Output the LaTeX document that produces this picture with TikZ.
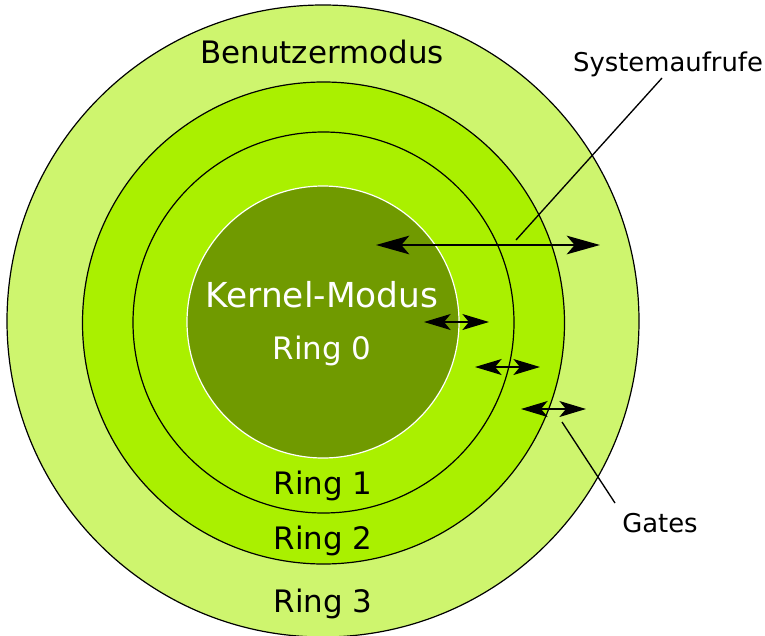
\documentclass[tikz,border=0pt]{standalone}
\usepackage{fontspec}
\setmainfont{DejaVu Sans}
\usetikzlibrary{arrows.meta}
\definecolor{ringpale}{HTML}{CEF56E}
\definecolor{ringbright}{HTML}{AAF000}
\definecolor{kernelgreen}{HTML}{709A00}
\tikzset{
  ring/.style={draw=black, line width=0.9pt},
  bigtip/.tip={Stealth[length=25pt, width=14pt, inset=6pt]},
  smalltip/.tip={Stealth[length=20pt, width=12pt, inset=5pt]},
  bigcall/.style={line width=1.2pt, bigtip-bigtip},
  gatecall/.style={line width=0.9pt, smalltip-smalltip},
  leader/.style={line width=1pt},
  ringlabel/.style={anchor=base, inner sep=0pt, font=\fontsize{23.2}{28}\selectfont},
  sidelabel/.style={anchor=base, inner sep=0pt, font=\fontsize{19.4}{23}\selectfont}
}
\begin{document}
\begin{tikzpicture}[x=0.75pt, y=-0.75pt]
\useasboundingbox (0,0) rectangle (765,636);

% concentric protection rings
\fill[ringpale, ring] (323,321) circle[radius=316];
\fill[ringbright, ring] (323.5,323) circle[radius=241];
\draw[ring] (323.5,322.5) circle[radius=190.5];
\fill[kernelgreen, draw=white, line width=0.9pt] (323,322) circle[radius=136];

% labels
\node[ringlabel] (user) at (322,63) {Benutzermodus};
\node[anchor=base, inner sep=0pt, text=white, font=\fontsize{25.8}{31}\selectfont] (kernel) at (322,307) {Kernel-Modus};
\node[ringlabel, text=white] (r0) at (322,359) {Ring 0};
\node[ringlabel] (r1) at (323,494) {Ring 1};
\node[ringlabel] (r2) at (323,549) {Ring 2};
\node[ringlabel] (r3) at (323,612) {Ring 3};
\node[sidelabel] (sys) at (668,71) {Systemaufrufe};
\node[sidelabel] (gates) at (660,532.5) {Gates};

% arrow end points
\coordinate (scA) at (376,245);
\coordinate (scB) at (600,245);
\coordinate (g1A) at (424,322);
\coordinate (g1B) at (489,322);
\coordinate (g2A) at (475,367);
\coordinate (g2B) at (540,367);
\coordinate (g3A) at (521,409);
\coordinate (g3B) at (586,409);
\coordinate (sysEnd) at (516,240);
\coordinate (sysStart) at (662,78);
\coordinate (gatesEnd) at (562,422);
\coordinate (gatesStart) at (615,503);

% system call and gate arrows
\draw[bigcall] (scA) -- (scB);
\draw[gatecall] (g1A) -- (g1B);
\draw[gatecall] (g2A) -- (g2B);
\draw[gatecall] (g3A) -- (g3B);

% leader lines
\draw[leader] (sysStart) -- (sysEnd);
\draw[leader] (gatesStart) -- (gatesEnd);
\end{tikzpicture}
\end{document}
